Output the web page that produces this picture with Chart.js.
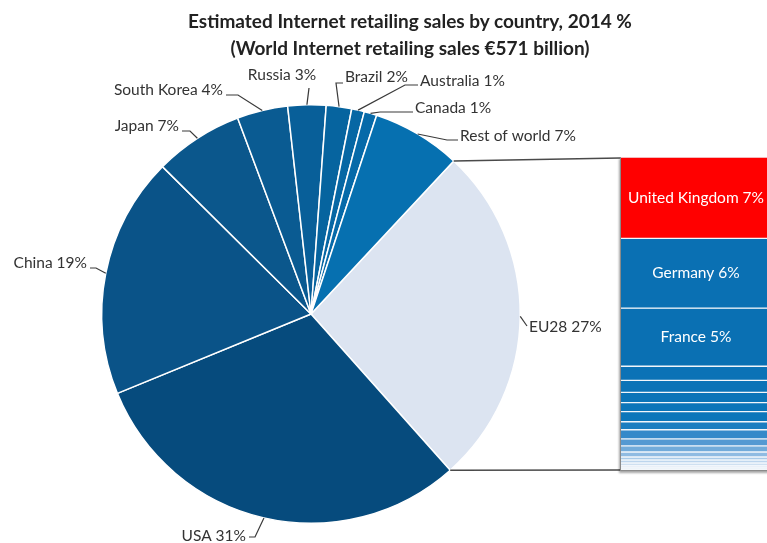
<!DOCTYPE html>
<html>
<head>
<meta charset="utf-8">
<title>Internet retailing sales by country</title>
<script src="https://cdn.jsdelivr.net/npm/chart.js@4.4.1/dist/chart.umd.min.js"></script>
<style>
  html, body { margin: 0; padding: 0; background: #fff; }
  body { width: 767px; height: 543px; overflow: hidden; position: relative; font-family: Lato, "Open Sans", sans-serif; }
  #title { position: absolute; left: 110px; width: 600px; top: 7px; text-align: center;
           font-weight: bold; font-size: 19px; line-height: 27px; color: #222; }
  #pieBox { position: absolute; left: 0; top: 0; width: 767px; height: 543px; }
  #barBox { position: absolute; left: 620px; top: 157px; width: 150px; height: 313px;
            border-left: 1px solid #8a8a8a; border-bottom: 1px solid #8a8a8a;
            box-shadow: -1px 2px 2px rgba(0,0,0,0.35); background: #fff; }
</style>
</head>
<body>
<div id="pieBox"><canvas id="pie"></canvas></div>
<div id="barBox"><canvas id="bar"></canvas></div>
<div id="title">Estimated Internet retailing sales by country, 2014 %<br>(World Internet retailing sales €571 billion)</div>

<script>
// world split, % of sales
const countries = ['EU28', 'USA', 'China', 'Japan', 'South Korea', 'Russia', 'Brazil', 'Australia', 'Canada', 'Rest of world'];
const shares = [27, 31, 19, 7, 4, 3, 2, 1, 1, 7];

// EU28 breakdown, % of world sales
const euLabelled = ['United Kingdom', 'Germany', 'France'];
const euLabelledShares = [7, 6, 5];
const euOtherShares = [1.21, 1.04, 0.87, 0.78, 0.87, 0.69, 0.78, 0.61, 0.52, 0.43, 0.26, 0.26, 0.22, 0.16, 0.12, 0.1];

const pieColors = ['#dce4f1', '#064b7d', '#0a5388', '#0b578c', '#0a5b92', '#085f99', '#06649f', '#0667a4', '#066aa9', '#0670b0'];
const euColors = ['#ff0000', '#0a70b3', '#0a70b3'];
const euOtherColors = ['#0b72b6', '#0b73b7', '#0b74b8', '#0c75b9', '#0c76ba', '#1a7dc0', '#3489c9', '#5499d2', '#72abda',
                       '#8fbbe2', '#a8cae8', '#bdd5ed', '#cfe0f1', '#dde8f4', '#e8eff8', '#f1f5fa'];

// label text placement: x, y, text alignment, elbow of the leader line
const labelLayout = [
  { x: 529, y: 327, align: 'left',   elbow: [527, 326], tail: false },
  { x: 246, y: 536, align: 'right',  elbow: [255, 537], tail: true },
  { x: 87,  y: 263, align: 'right',  elbow: [96, 268],  tail: true },
  { x: 179, y: 126, align: 'right',  elbow: [190, 131], tail: true },
  { x: 223, y: 90,  align: 'right',  elbow: [238, 95],  tail: true },
  { x: 282, y: 75,  align: 'center', elbow: [309, 88],  tail: false },
  { x: 345, y: 77,  align: 'left',   elbow: [336, 83],  tail: true },
  { x: 420, y: 81,  align: 'left',   elbow: [405, 85],  tail: true },
  { x: 415, y: 108, align: 'left',   elbow: [380, 112], tail: true },
  { x: 460, y: 136, align: 'left',   elbow: [447, 140], tail: true }
];
const barLeft = 620, barTop = 158, barBottom = 470;
const labelFont = '15.5px Lato, "Open Sans", sans-serif';

const pieLabels = {
  id: 'pieLabels',
  afterDraw(chart) {
    const ctx = chart.ctx;
    const arcs = chart.getDatasetMeta(0).data;
    ctx.save();
    ctx.font = labelFont;
    ctx.textBaseline = 'middle';
    ctx.lineWidth = 1.2;
    ctx.strokeStyle = '#3a3a3a';
    arcs.forEach((arc, i) => {
      const mid = (arc.startAngle + arc.endAngle) / 2;
      const ex = arc.x + Math.cos(mid) * arc.outerRadius;
      const ey = arc.y + Math.sin(mid) * arc.outerRadius;
      const L = labelLayout[i];
      ctx.beginPath();
      ctx.moveTo(ex, ey);
      ctx.lineTo(L.elbow[0], L.elbow[1]);
      if (L.tail && L.align === 'left') ctx.lineTo(L.x - 2, L.elbow[1]);
      if (L.tail && L.align === 'right') ctx.lineTo(L.x + 3, L.elbow[1]);
      ctx.stroke();
      ctx.fillStyle = '#333';
      ctx.textAlign = L.align;
      ctx.fillText(countries[i] + ' ' + shares[i] + '%', L.x, L.y);
    });
    // connectors from the EU28 slice to the breakdown bar
    const eu = arcs[0];
    ctx.strokeStyle = '#4a4a4a';
    ctx.lineWidth = 1.6;
    ctx.beginPath();
    ctx.moveTo(eu.x + Math.cos(eu.startAngle) * eu.outerRadius, eu.y + Math.sin(eu.startAngle) * eu.outerRadius);
    ctx.lineTo(barLeft, barTop);
    ctx.moveTo(eu.x + Math.cos(eu.endAngle) * eu.outerRadius, eu.y + Math.sin(eu.endAngle) * eu.outerRadius);
    ctx.lineTo(barLeft, barBottom);
    ctx.stroke();
    ctx.restore();
  }
};

new Chart(document.getElementById('pie'), {
  type: 'pie',
  data: {
    labels: countries,
    datasets: [{ data: shares, backgroundColor: pieColors, borderColor: '#ffffff', borderWidth: 1.5 }]
  },
  options: {
    responsive: true,
    maintainAspectRatio: false,
    animation: false,
    rotation: 43,
    layout: { padding: { top: 104, bottom: 19, left: 101, right: 246 } },
    plugins: { legend: { display: false }, tooltip: { enabled: false }, title: { display: false } }
  },
  plugins: [pieLabels]
});

const euNames = euLabelled.concat(euOtherShares.map(() => ''));
const euValues = euLabelledShares.concat(euOtherShares);
const euFill = euColors.concat(euOtherColors);
const euTotal = euValues.reduce((a, b) => a + b, 0);

const barLabels = {
  id: 'barLabels',
  afterDatasetsDraw(chart) {
    const ctx = chart.ctx;
    ctx.save();
    ctx.font = labelFont;
    ctx.fillStyle = '#ffffff';
    ctx.textAlign = 'center';
    ctx.textBaseline = 'middle';
    euLabelled.forEach((name, i) => {
      const bar = chart.getDatasetMeta(i).data[0];
      ctx.fillText(name + ' ' + euLabelledShares[i] + '%', bar.x, (bar.y + bar.base) / 2);
    });
    ctx.restore();
  }
};

new Chart(document.getElementById('bar'), {
  type: 'bar',
  data: {
    labels: ['EU28'],
    datasets: euValues.map((v, i) => ({
      label: euNames[i],
      data: [v],
      backgroundColor: euFill[i],
      borderColor: '#f2f6fb',
      borderWidth: { top: 1, bottom: 1, left: 0, right: 0 },
      borderSkipped: false,
      barPercentage: 1,
      categoryPercentage: 1
    }))
  },
  options: {
    responsive: true,
    maintainAspectRatio: false,
    animation: false,
    layout: { padding: 0 },
    scales: {
      x: { stacked: true, display: false },
      y: { stacked: true, display: false, reverse: true, min: 0, max: euTotal }
    },
    plugins: { legend: { display: false }, tooltip: { enabled: false } }
  },
  plugins: [barLabels]
});
</script>
</body>
</html>
